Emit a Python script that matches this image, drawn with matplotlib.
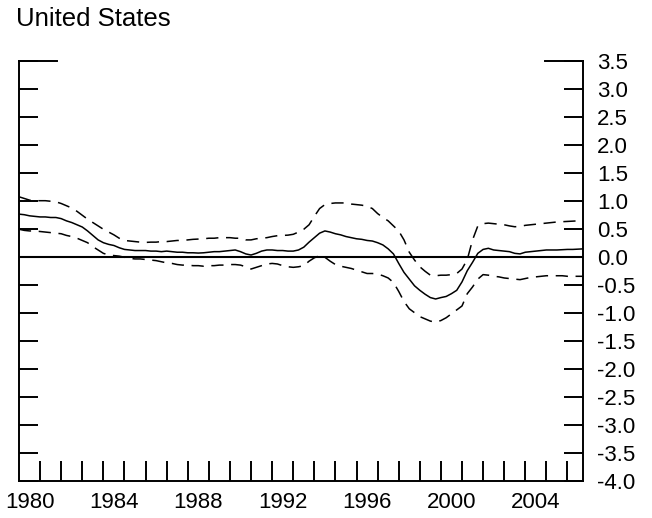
import numpy as np
import matplotlib
matplotlib.use("Agg")
import matplotlib.pyplot as plt
from matplotlib.ticker import FixedLocator, FuncFormatter

plt.rcParams['font.family'] = ['Liberation Sans', 'DejaVu Sans']
plt.rcParams['axes.unicode_minus'] = False

# quarterly, 1980Q1 .. 2006Q4
quarters = [1980 + q / 4 for q in range(108)]

central = [
    0.76, 0.75, 0.73, 0.72, 0.71, 0.71, 0.70, 0.70, 0.68, 0.64,
    0.61, 0.57, 0.53, 0.46, 0.38, 0.30, 0.25, 0.22, 0.20, 0.16,
    0.13, 0.12, 0.11, 0.11, 0.11, 0.10, 0.10, 0.09, 0.10, 0.09,
    0.08, 0.08, 0.07, 0.07, 0.065, 0.07, 0.08, 0.09, 0.09, 0.10,
    0.11, 0.12, 0.09, 0.05, 0.03, 0.06, 0.10, 0.12, 0.12, 0.11,
    0.11, 0.10, 0.10, 0.12, 0.17, 0.26, 0.34, 0.42, 0.46, 0.44,
    0.41, 0.39, 0.36, 0.34, 0.32, 0.31, 0.29, 0.28, 0.25, 0.21,
    0.14, 0.05, -0.12, -0.28, -0.40, -0.52, -0.60, -0.67, -0.73, -0.755,
    -0.73, -0.71, -0.66, -0.60, -0.45, -0.25, -0.10, 0.06, 0.13, 0.15,
    0.12, 0.11, 0.10, 0.09, 0.06, 0.05, 0.08, 0.09, 0.10, 0.11,
    0.12, 0.12, 0.12, 0.125, 0.13, 0.13, 0.135, 0.14,
]

upper = [
    1.07, 1.04, 1.01, 1.00, 1.00, 1.00, 0.99, 0.98, 0.95, 0.91,
    0.87, 0.81, 0.74, 0.67, 0.61, 0.55, 0.49, 0.44, 0.39, 0.33,
    0.29, 0.28, 0.27, 0.26, 0.255, 0.26, 0.26, 0.27, 0.27, 0.28,
    0.29, 0.29, 0.30, 0.31, 0.315, 0.32, 0.33, 0.33, 0.34, 0.34,
    0.34, 0.33, 0.33, 0.30, 0.30, 0.32, 0.33, 0.34, 0.36, 0.375,
    0.38, 0.385, 0.40, 0.44, 0.49, 0.57, 0.72, 0.86, 0.93, 0.95,
    0.96, 0.96, 0.96, 0.94, 0.93, 0.92, 0.90, 0.86, 0.77, 0.70,
    0.64, 0.55, 0.46, 0.30, 0.08, -0.06, -0.18, -0.26, -0.33, -0.34,
    -0.33, -0.33, -0.32, -0.30, -0.22, -0.05, 0.30, 0.55, 0.59, 0.60,
    0.59, 0.58, 0.57, 0.55, 0.535, 0.54, 0.56, 0.57, 0.58, 0.59,
    0.60, 0.61, 0.62, 0.625, 0.63, 0.635, 0.64, 0.64,
]

lower = [
    0.49, 0.47, 0.46, 0.46, 0.45, 0.44, 0.43, 0.42, 0.41, 0.38,
    0.36, 0.33, 0.29, 0.25, 0.18, 0.12, 0.06, 0.03, 0.02, 0.01,
    -0.01, -0.03, -0.04, -0.04, -0.05, -0.06, -0.07, -0.09, -0.11, -0.12,
    -0.14, -0.15, -0.15, -0.16, -0.16, -0.17, -0.16, -0.16, -0.15, -0.15,
    -0.14, -0.14, -0.15, -0.18, -0.22, -0.19, -0.16, -0.13, -0.12, -0.13,
    -0.16, -0.18, -0.19, -0.18, -0.16, -0.08, -0.02, 0.02, -0.01, -0.08,
    -0.14, -0.17, -0.19, -0.21, -0.24, -0.27, -0.30, -0.30, -0.31, -0.34,
    -0.38, -0.46, -0.62, -0.80, -0.93, -1.00, -1.07, -1.11, -1.15, -1.17,
    -1.14, -1.09, -1.02, -0.95, -0.88, -0.66, -0.54, -0.40, -0.32, -0.33,
    -0.35, -0.36, -0.38, -0.39, -0.40, -0.41, -0.39, -0.37, -0.36, -0.35,
    -0.34, -0.34, -0.34, -0.34, -0.35, -0.35, -0.35, -0.35,
]

year_labels = [1980, 1984, 1988, 1992, 1996, 2000, 2004]
y_ticks = [-4.0, -3.5, -3.0, -2.5, -2.0, -1.5, -1.0, -0.5, 0.0,
           0.5, 1.0, 1.5, 2.0, 2.5, 3.0, 3.5]

fig = plt.figure(figsize=(6.52, 5.18), dpi=100)
ax = fig.add_axes([19 / 652, 1 - 480.7 / 518, (583.3 - 19) / 652, (480.7 - 60.7) / 518])

ax.axhline(0, color='black', lw=1.5)
ax.plot(quarters, central, color='black', lw=1.1)
ax.plot(quarters, upper, color='black', lw=1.1, linestyle=(0, (8, 5)))
ax.plot(quarters, lower, color='black', lw=1.1, linestyle=(0, (8, 5)))

ax.set_xlim(quarters[0], quarters[-1])
ax.set_ylim(-4.0, 3.5)

for s in ['left', 'right', 'bottom']:
    ax.spines[s].set_linewidth(1.4)
ax.spines['top'].set_visible(False)
# short pieces of the top frame at both corners
ax.plot([0, 38 / 564.3], [1, 1], transform=ax.transAxes, color='black', lw=1.4, clip_on=False)
ax.plot([1 - 38 / 564.3, 1], [1, 1], transform=ax.transAxes, color='black', lw=1.4, clip_on=False)

ax.yaxis.set_major_locator(FixedLocator(y_ticks))
ax.yaxis.set_major_formatter(FuncFormatter(lambda v, p: '%.1f' % v))
ax.tick_params(axis='y', which='major', direction='in', length=13.7, width=1.4,
               left=True, right=True, labelleft=False, labelright=True,
               labelsize=16, pad=10)

ax.xaxis.set_major_locator(FixedLocator(list(range(1981, 2007))))
ax.xaxis.set_minor_locator(FixedLocator([y + 0.5 for y in year_labels]))
ax.xaxis.set_major_formatter(FuncFormatter(lambda v, p: ''))
ax.xaxis.set_minor_formatter(FuncFormatter(lambda v, p: '%d' % int(v)))
ax.tick_params(axis='x', which='major', direction='in', length=14.5, width=1.4,
               top=False, bottom=True)
ax.tick_params(axis='x', which='minor', length=0, labelsize=16, pad=8)

fig.text(16 / 652, 1 - 25.7 / 518, 'United States', fontsize=18.5, va='baseline', ha='left')

fig.savefig('out.png', dpi=100)
